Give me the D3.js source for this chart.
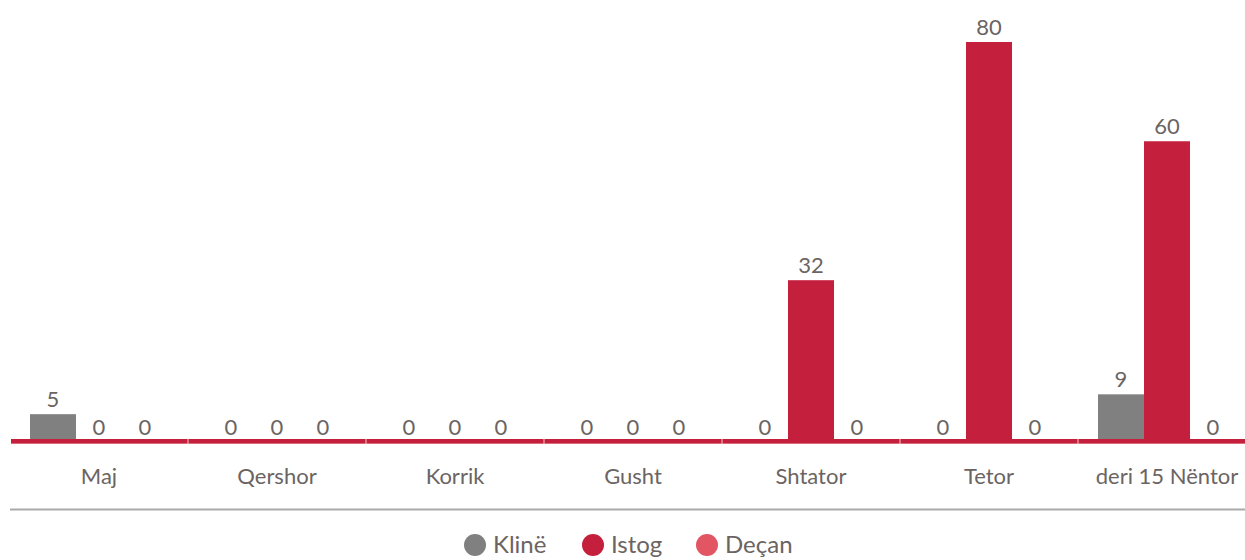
<!DOCTYPE html>
<html lang="sq">
<head>
<meta charset="utf-8">
<title>Klinë, Istog, Deçan</title>
<script src="https://d3js.org/d3.v7.min.js"></script>
<style>
  body { margin: 0; background: #fff; }
  text { font-family: Lato, "Open Sans", sans-serif; fill: #6b6462; }
</style>
</head>
<body>
<script>
// data
var months = ["Maj", "Qershor", "Korrik", "Gusht", "Shtator", "Tetor", "deri 15 Nëntor"];
var series = ["Klinë", "Istog", "Deçan"];
var kline = [5, 0, 0, 0, 0, 0, 9];
var istog = [0, 0, 0, 0, 32, 80, 60];
var decan = [0, 0, 0, 0, 0, 0, 0];
var colors = ["#808080", "#c41f3c", "#e25664"];

var width = 1245, height = 560;
var baseY = 439;

var rows = months.map(function(m, i) {
  return { month: m, values: [kline[i], istog[i], decan[i]] };
});

var svg = d3.select("body").append("svg")
  .attr("width", width)
  .attr("height", height);

var x = d3.scaleBand()
  .domain(months)
  .range([10, 1256])
  .paddingInner(40 / 178)
  .paddingOuter(20 / 178);

var x1 = d3.scaleBand()
  .domain(series)
  .range([0, x.bandwidth()]);

var y = d3.scaleLinear()
  .domain([0, 80])
  .range([baseY, 42]);

var group = svg.selectAll(".group")
  .data(rows)
  .enter().append("g")
  .attr("class", "group")
  .attr("transform", function(d) { return "translate(" + x(d.month) + ",0)"; });

var cells = group.selectAll(".cell")
  .data(function(d) {
    return d.values.map(function(v, i) { return { name: series[i], value: v, i: i }; });
  })
  .enter();

cells.append("rect")
  .attr("x", function(d) { return x1(d.name); })
  .attr("y", function(d) { return y(d.value); })
  .attr("width", x1.bandwidth())
  .attr("height", function(d) { return baseY - y(d.value); })
  .attr("fill", function(d) { return colors[d.i]; });

cells.append("text")
  .attr("x", function(d) { return x1(d.name) + x1.bandwidth() / 2; })
  .attr("y", function(d) { return y(d.value) - (d.value > 0 ? 7 : 4); })
  .attr("text-anchor", "middle")
  .style("font-size", "22px")
  .text(function(d) { return d.value; });

// baseline
svg.append("line")
  .attr("x1", 11).attr("x2", width)
  .attr("y1", baseY + 2.5).attr("y2", baseY + 2.5)
  .style("stroke", "#c41f3c")
  .style("stroke-width", 5);

svg.append("line")
  .attr("x1", 11).attr("x2", width)
  .attr("y1", baseY + 4.5).attr("y2", baseY + 4.5)
  .style("stroke", "#dc6b7c")
  .style("stroke-width", 1);

// small gaps between months
svg.selectAll(".sep")
  .data(months.slice(1))
  .enter().append("line")
  .attr("x1", function(d) { return x(d) - 20; })
  .attr("x2", function(d) { return x(d) - 20; })
  .attr("y1", baseY).attr("y2", baseY + 5)
  .style("stroke", "#f3c9cf")
  .style("stroke-width", 1);

// month labels
svg.selectAll(".month")
  .data(months)
  .enter().append("text")
  .attr("x", function(d) { return x(d) + x.bandwidth() / 2; })
  .attr("y", 484)
  .attr("text-anchor", "middle")
  .style("font-size", "22px")
  .text(function(d) { return d; });

// separator above legend
svg.append("line")
  .attr("x1", 10).attr("x2", width)
  .attr("y1", 509.5).attr("y2", 509.5)
  .style("stroke", "#a9a9a9")
  .style("stroke-width", 2);

// legend
var legendX = [475, 593, 707];
var legend = svg.selectAll(".legend")
  .data(series)
  .enter().append("g")
  .attr("class", "legend")
  .attr("transform", function(d, i) { return "translate(" + legendX[i] + ",545)"; });

legend.append("circle")
  .attr("r", 11)
  .attr("fill", function(d, i) { return colors[i]; });

legend.append("text")
  .attr("x", 18)
  .attr("y", 8)
  .style("font-size", "24px")
  .text(function(d) { return d; });
</script>
</body>
</html>
